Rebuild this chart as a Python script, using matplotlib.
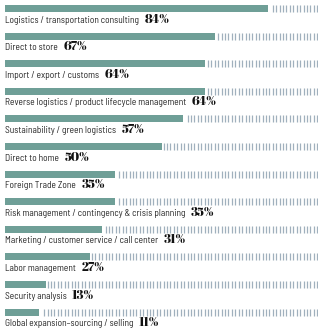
import numpy as np
import matplotlib
matplotlib.use("Agg")
import matplotlib.pyplot as plt

categories = [
    "Logistics / transportation consulting",
    "Direct to store",
    "Import / export / customs",
    "Reverse logistics / product lifecycle management",
    "Sustainability / green logistics",
    "Direct to home",
    "Foreign Trade Zone",
    "Risk management / contingency & crisis planning",
    "Marketing / customer service / call center",
    "Labor management",
    "Security analysis",
    "Global expansion\u2013sourcing / selling",
]
values = [84, 67, 64, 64, 57, 50, 35, 35, 31, 27, 13, 11]

BAR_COLOR = "#6f9f97"
TICK_COLOR = "#a0b0bd"
LABEL_COLOR = "#262626"

W, H, DPI = 325, 335, 100
fig = plt.figure(figsize=(W / DPI, H / DPI), dpi=DPI)
fig.patch.set_facecolor("white")
left, right = 5 / W, 318 / W
ax = fig.add_axes([left, 0, right - left, 1])
ax.set_axis_off()

row_px = 27.6
first_px = 8.5
ax.set_xlim(0, 100)
ax.set_ylim((H - first_px) / row_px, -first_px / row_px)

bar_h = 7 / row_px
y = np.arange(len(values))
ax.barh(y, values, height=bar_h, color=BAR_COLOR, left=0, linewidth=0)

# dashed remainder of each bar up to 100%
step = 1.09
grid = np.arange(step / 2, 100.01, step)
for yi, v in zip(y, values):
    xs = grid[grid > v + 0.5]
    ax.vlines(xs, yi - bar_h / 2, yi + bar_h / 2, colors=TICK_COLOR, linewidth=0.9)

label_font = ["Barlow Semi Condensed", "Archivo Narrow", "DejaVu Sans"]
value_font = ["Abril Fatface", "Playfair Display", "DejaVu Serif"]
baseline_pt = -10.1   # label baseline below the bar centre
gap_pt = 3.8          # space between label and its value

labels = []
for yi, name in zip(y, categories):
    lab = ax.annotate(name, xy=(0, yi), xytext=(0, baseline_pt), textcoords="offset points",
                      ha="left", va="baseline", fontsize=6.8, family=label_font,
                      color=LABEL_COLOR)
    labels.append(lab)

fig.canvas.draw()
renderer = fig.canvas.get_renderer()
for yi, v, lab in zip(y, values, labels):
    width_pt = lab.get_window_extent(renderer).width * 72 / DPI
    ax.annotate(f"{v}%", xy=(0, yi), xytext=(width_pt + gap_pt, baseline_pt),
                textcoords="offset points", ha="left", va="baseline",
                fontsize=9, family=value_font, color="#111111")

fig.savefig("out.png", dpi=DPI, facecolor="white")
